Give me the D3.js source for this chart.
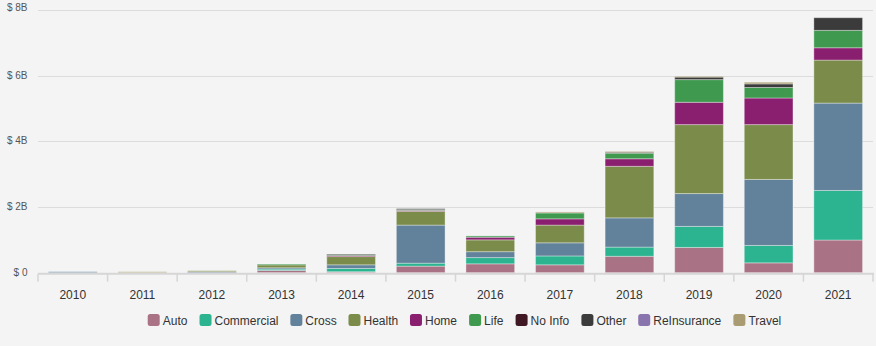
<!DOCTYPE html>
<html><head><meta charset="utf-8">
<script src="https://cdn.jsdelivr.net/npm/d3@7"></script>
<style>
html,body{margin:0;padding:0;background:#f4f4f4;}
svg{display:block;font-family:"Liberation Sans",Arial,sans-serif;}
</style></head>
<body><svg id="c" width="876" height="346"></svg>
<script>
const years = ["2010","2011","2012","2013","2014","2015","2016","2017","2018","2019","2020","2021"];
const seriesNames = ["Auto","Commercial","Cross","Health","Home","Life","No Info","Other","ReInsurance","Travel"];
const seriesColors = ["#a97385","#2bb48f","#62829b","#7b8c4a","#8b1f6f","#3f9a4f","#401824","#3b3b3b","#8a74ae","#a99c72"];
// values in billions of dollars
const auto        = [0, 0, 0.01, 0.07, 0.03, 0.20, 0.27, 0.24, 0.50, 0.77, 0.30, 0.995];
const commercial  = [0, 0, 0, 0.04, 0.10, 0.09, 0.19, 0.27, 0.28, 0.64, 0.53, 1.51];
const cross       = [0.03, 0, 0.02, 0.04, 0.11, 1.16, 0.18, 0.40, 0.89, 1.00, 2.01, 2.66];
const health      = [0, 0, 0.03, 0.10, 0.26, 0.42, 0.36, 0.54, 1.57, 2.10, 1.67, 1.31];
const home        = [0, 0, 0, 0, 0.02, 0.03, 0.08, 0.19, 0.23, 0.68, 0.81, 0.375];
const life        = [0, 0, 0, 0.01, 0.03, 0.03, 0.04, 0.18, 0.17, 0.69, 0.32, 0.53];
const noInfo      = [0, 0, 0, 0, 0, 0, 0, 0, 0, 0, 0, 0];
const other       = [0, 0, 0, 0, 0.01, 0.02, 0, 0, 0.04, 0.09, 0.11, 0.385];
const reinsurance = [0, 0, 0, 0, 0, 0, 0, 0, 0, 0, 0, 0];
const travel      = [0, 0.03, 0, 0, 0, 0, 0, 0.03, 0.01, 0.01, 0.05, 0];
const yTicks = [0, 2, 4, 6, 8];
const yTickLabels = ["$ 0", "$ 2B", "$ 4B", "$ 6B", "$ 8B"];

const seriesValues = [auto, commercial, cross, health, home, life, noInfo, other, reinsurance, travel];
const table = years.map((y, i) => {
  const row = {year: y};
  seriesNames.forEach((s, j) => row[s] = seriesValues[j][i]);
  return row;
});

const svg = d3.select("#c");
const L = 38, R = 873, T = 10, B = 272.7;

const x = d3.scaleBand().domain(years).range([L, R]).paddingInner(0.3).paddingOuter(0.15);
const y = d3.scaleLinear().domain([0, 8]).range([B, T]);
const color = d3.scaleOrdinal().domain(seriesNames).range(seriesColors);

// gridlines
svg.append("g").selectAll("line").data(yTicks.filter(d => d > 0)).join("line")
  .attr("x1", L).attr("x2", R)
  .attr("y1", d => Math.round(y(d)) + 0.5).attr("y2", d => Math.round(y(d)) + 0.5)
  .attr("stroke", "#dcdcdc").attr("stroke-width", 1);

// y labels
svg.append("g").selectAll("text").data(yTicks).join("text")
  .attr("x", 27.5).attr("y", d => y(d)).attr("dy", d => d === 8 ? "0.05em" : "0.3em")
  .attr("text-anchor", "end").attr("font-size", 10).attr("fill", "#555")
  .text((d, i) => yTickLabels[i]);

// stacked bars
const stack = d3.stack().keys(seriesNames)(table);
svg.append("g").selectAll("g").data(stack).join("g")
  .attr("fill", d => color(d.key))
  .selectAll("rect").data(d => d.filter(p => p[1] - p[0] > 0)).join("rect")
  .attr("x", d => x(d.data.year))
  .attr("width", x.bandwidth())
  .attr("y", d => y(d[1]))
  .attr("height", d => Math.max(1, y(d[0]) - y(d[1])))
  .attr("stroke", "rgba(255,255,255,0.35)").attr("stroke-width", 1);

// x axis line
svg.append("line").attr("x1", L).attr("x2", R + 1).attr("y1", B + 1).attr("y2", B + 1)
  .attr("stroke", "#d6d6d6").attr("stroke-width", 2);
const step = x.step();
svg.append("g").selectAll("line").data(d3.range(years.length + 1)).join("line")
  .attr("x1", i => L + i * step).attr("x2", i => L + i * step)
  .attr("y1", B + 1).attr("y2", B + 9)
  .attr("stroke", "#d6d6d6").attr("stroke-width", 1.5);
svg.append("g").selectAll("text").data(years).join("text")
  .attr("x", d => x(d) + x.bandwidth() / 2).attr("y", 298.5)
  .attr("text-anchor", "middle").attr("font-size", 12).attr("fill", "#333")
  .text(d => d);

// legend
const lg = svg.append("g");
const items = lg.selectAll("g").data(seriesNames).join("g");
items.append("rect").attr("width", 12).attr("height", 12).attr("rx", 2.5).attr("y", 314)
  .attr("fill", d => color(d));
items.append("text").attr("x", 15).attr("y", 324.5).attr("font-size", 12).attr("fill", "#333")
  .text(d => d);
let cx = 0;
const gap = 11.8;
items.each(function() {
  const w = this.getBBox().width;
  d3.select(this).attr("transform", `translate(${cx},0)`);
  cx += w + gap;
});
const total = cx - gap;
lg.attr("transform", `translate(${464.5 - total / 2},0)`);
</script></body></html>
